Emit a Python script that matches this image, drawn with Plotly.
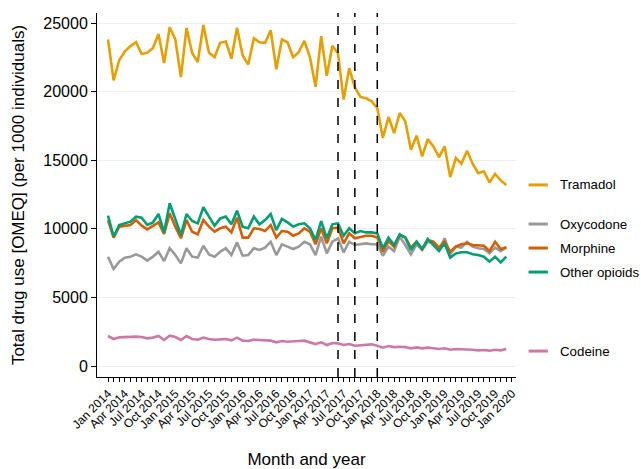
import plotly.graph_objects as go

# ---- data ----
month_labels = [f"{m} {y}" for y in range(2014, 2021) for m in
                ["Jan", "Feb", "Mar", "Apr", "May", "Jun", "Jul", "Aug", "Sep", "Oct", "Nov", "Dec"]][:73]
shown_tick_labels = ["Jan 2014", "Apr 2014", "Jul 2014", "Oct 2014", "Jan 2015", "Apr 2015", "Jul 2015",
                     "Oct 2015", "Jan 2016", "Apr 2016", "Jul 2016", "Oct 2016", "Jan 2017", "Apr 2017",
                     "Jul 2017", "Oct 2017", "Jan 2018", "Apr 2018", "Jul 2018", "Oct 2018", "Jan 2019",
                     "Apr 2019", "Jul 2019", "Oct 2019", "Jan 2020"]
y_tick_values = [0, 5000, 10000, 15000, 20000, 25000]
y_tick_labels = ["0", "5000", "10000", "15000", "20000", "25000"]
intervention_months = ["Jun 2017", "Sep 2017", "Jan 2018"]

tramadol = [23800, 20820, 22290, 22930, 23320, 23600, 22740, 22840, 23170, 24200, 22090, 24690,
            23800, 21060, 24640, 22810, 22160, 24860, 22840, 22520, 23560, 23650, 22400, 24660,
            22640, 21970, 23890, 23600, 23560, 24470, 21630, 23800, 23600, 22500, 22880, 23700,
            22500, 20350, 24040, 21150, 23350, 22770, 19420, 21710, 20310, 19610, 19510, 19290,
            18800, 16620, 18150, 16980, 18440, 17830, 15770, 16790, 15280, 16540, 16010, 15230,
            16010, 13770, 15160, 14750, 15690, 14750, 14060, 14190, 13380, 14010, 13530, 13200]
oxycodone = [7970, 7070, 7610, 7900, 7970, 8140, 7970, 7680, 7970, 8330, 7650, 8580,
             8090, 7480, 8580, 7970, 7900, 8770, 8140, 7970, 8330, 8580, 8090, 9010,
             8040, 8090, 8580, 8460, 8630, 9060, 8090, 8870, 8700, 8530, 8700, 9060,
             8870, 8090, 9430, 8210, 9060, 9310, 8290, 9060, 8820, 8870, 8940, 8870,
             8870, 8040, 8700, 8380, 9430, 8820, 8140, 8870, 8460, 9060, 8940, 8460,
             9310, 8140, 8700, 8630, 9060, 8700, 8580, 8530, 8210, 8630, 8380, 8700]
morphine = [10640, 9360, 10160, 10230, 10280, 10640, 10230, 9960, 10230, 10470, 9620, 11130,
            10160, 9310, 10640, 9790, 9600, 10640, 10160, 9790, 10040, 10160, 9740, 10810,
            9360, 9360, 10040, 9990, 9840, 10280, 9360, 9840, 9790, 9500, 9670, 10040,
            9790, 8870, 10040, 8940, 10040, 10080, 8940, 9670, 9310, 9430, 9500, 9500,
            9360, 8330, 9110, 8700, 9550, 9360, 8630, 9060, 8530, 9190, 9060, 8630,
            9060, 8330, 8700, 8870, 8940, 8820, 8820, 8770, 8380, 9060, 8530, 8630]
other_opioids = [10960, 9430, 10280, 10400, 10520, 10890, 10810, 10280, 10470, 11080, 9740, 11860,
                 10640, 9550, 11080, 10570, 10400, 11570, 10890, 10230, 10760, 10890, 10330, 11320,
                 10160, 10040, 10890, 10330, 10640, 11080, 9910, 10720, 10470, 10160, 10330, 10400,
                 10040, 9190, 10570, 9310, 10330, 10400, 9500, 10040, 9670, 9840, 9740, 9740,
                 9670, 8580, 9360, 8820, 9600, 9360, 8460, 9060, 8530, 9260, 8820, 8380,
                 8940, 7900, 8210, 8290, 8290, 8140, 8090, 7970, 7610, 7970, 7560, 7970]
codeine = [2190, 1970, 2090, 2110, 2140, 2140, 2110, 2020, 2070, 2190, 1900, 2210,
           2110, 1900, 2190, 1970, 1920, 2070, 1970, 1920, 1940, 1970, 1870, 2070,
           1850, 1820, 1920, 1900, 1870, 1850, 1730, 1820, 1770, 1770, 1820, 1850,
           1730, 1600, 1730, 1530, 1680, 1650, 1530, 1600, 1480, 1530, 1530, 1580,
           1480, 1340, 1460, 1380, 1410, 1380, 1290, 1360, 1290, 1340, 1290, 1240,
           1290, 1190, 1240, 1240, 1220, 1190, 1140, 1170, 1120, 1190, 1140, 1240]

series_names = ["Tramadol", "Oxycodone", "Morphine", "Other opioids", "Codeine"]
series_values = [tramadol, oxycodone, morphine, other_opioids, codeine]

# ---- styling / layout ----
colors = ["#E69F00", "#999999", "#D55E00", "#009E73", "#CC79A7"]
label_y = [13200, 10350, 8600, 6850, 1090]   # vertical placement of end labels (data units)
draw_order = [4, 1, 2, 3, 0]

x_idx = list(range(len(tramadol)))
fig = go.Figure()
for k in draw_order:
    fig.add_trace(go.Scatter(x=x_idx, y=series_values[k], mode="lines", name=series_names[k],
                             line=dict(color=colors[k], width=2.6), showlegend=False))

for m in intervention_months:
    xi = month_labels.index(m)
    fig.add_shape(type="line", x0=xi, x1=xi, xref="x", yref="paper", y0=0, y1=1,
                  line=dict(color="black", width=1.5, dash="dash"))

for name, col, yv in zip(series_names, colors, label_y):
    fig.add_shape(type="line", xref="paper", yref="y", x0=1.03, x1=1.076, y0=yv, y1=yv,
                  line=dict(color=col, width=3))
    fig.add_annotation(text=name, xref="paper", yref="y", x=1.1, y=yv, xanchor="left",
                       yanchor="middle", showarrow=False,
                       font=dict(size=13.3, color="black", family="Liberation Sans, Arial"))

tickvals = list(range(len(month_labels)))
ticktext = [t if t in shown_tick_labels else "" for t in month_labels]

fig.update_layout(
    width=641, height=469,
    margin=dict(l=97, r=125, t=13, b=92, autoexpand=False),
    plot_bgcolor="white", paper_bgcolor="white",
    font=dict(family="Liberation Sans, Arial", color="black"),
    xaxis=dict(range=[-1.96, 72.73], tickvals=tickvals, ticktext=ticktext, tickangle=-45,
               ticks="outside", ticklen=4, tickcolor="black", tickwidth=1, automargin=False,
               showline=True, linecolor="black", linewidth=1, showgrid=False, zeroline=False,
               tickfont=dict(size=12),
               title=dict(text="Month and year", font=dict(size=17), standoff=22)),
    yaxis=dict(range=[-800, 25730], tickvals=y_tick_values, ticktext=y_tick_labels,
               ticks="outside", ticklen=5, tickcolor="black", tickwidth=1, automargin=False,
               showline=True, linecolor="black", linewidth=1,
               showgrid=True, gridcolor="#eaf0f2", gridwidth=1, zeroline=False,
               tickfont=dict(size=16),
               title=dict(text="Total drug use [OMEQ] (per 1000 individuals)", font=dict(size=17),
                          standoff=14)),
)

fig.write_html("out.html", config={"displayModeBar": False},
               post_script="document.body.style.margin='0';")
